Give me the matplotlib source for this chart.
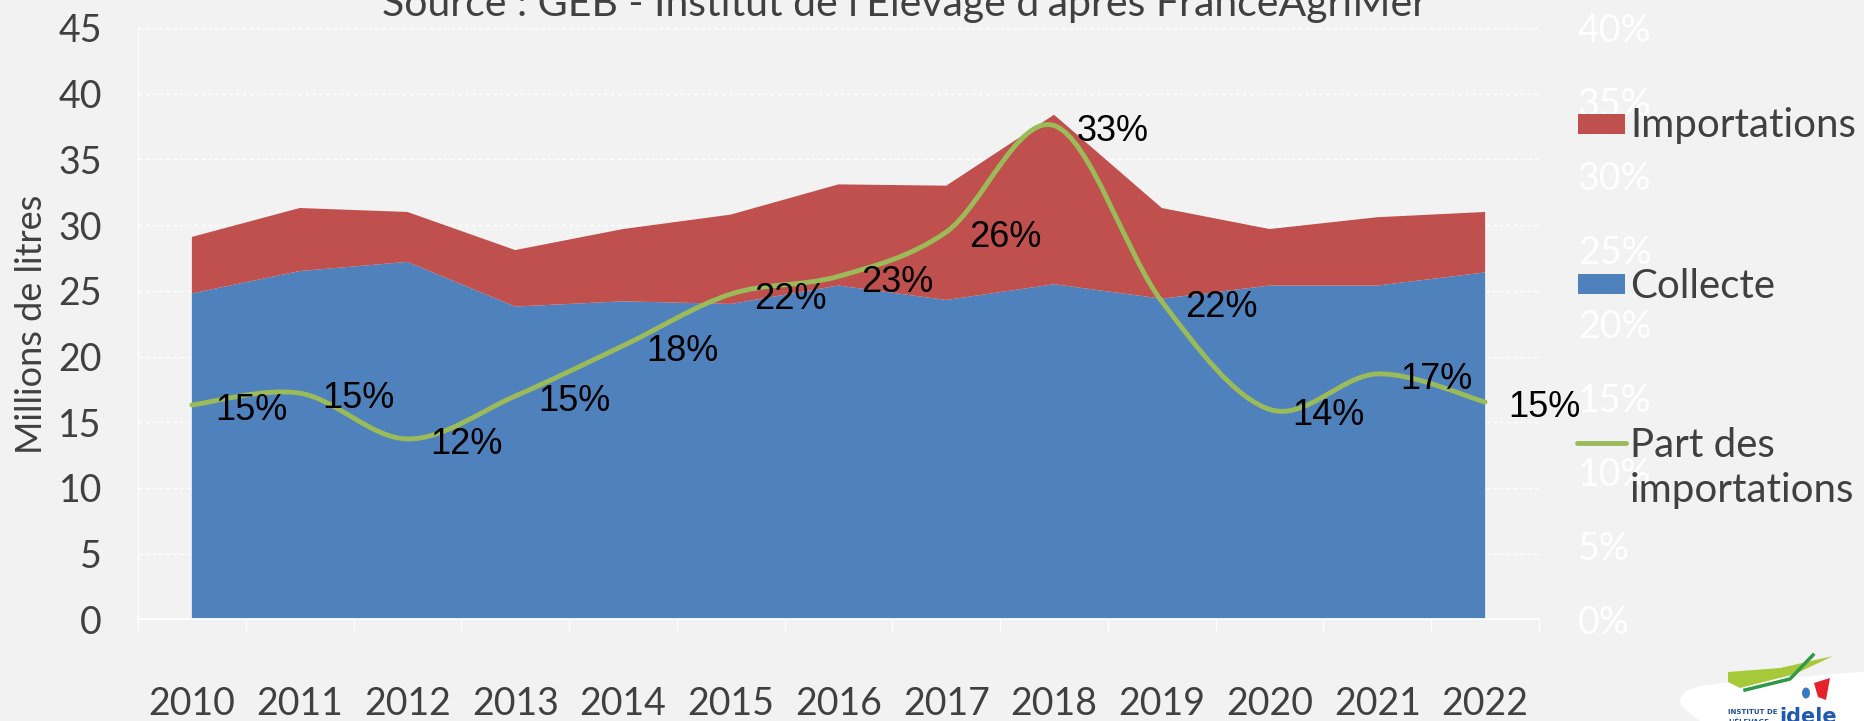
import numpy as np
import matplotlib
matplotlib.use("Agg")
import matplotlib.pyplot as plt
from matplotlib.path import Path
from matplotlib.patches import PathPatch, Rectangle, Ellipse, Polygon
from matplotlib.lines import Line2D
from matplotlib.ticker import PercentFormatter, FixedLocator

# ---------------- data ----------------
years = ["2010", "2011", "2012", "2013", "2014", "2015", "2016",
         "2017", "2018", "2019", "2020", "2021", "2022"]
collecte = [24.8, 26.5, 27.2, 23.8, 24.2, 24.0, 25.4, 24.3, 25.5, 24.4, 25.4, 25.4, 26.4]
importations = [4.3, 4.8, 3.8, 4.3, 5.5, 6.8, 7.7, 8.7, 12.9, 6.9, 4.3, 5.2, 4.6]
part_imports = [0.145, 0.153, 0.122, 0.151, 0.185, 0.220, 0.232, 0.262, 0.334,
                0.215, 0.142, 0.166, 0.147]
part_labels = ["15%", "15%", "12%", "15%", "18%", "22%", "23%", "26%", "33%",
               "22%", "14%", "17%", "15%"]
left_ticks = [0, 5, 10, 15, 20, 25, 30, 35, 40, 45]
right_ticks = [0, 0.05, 0.10, 0.15, 0.20, 0.25, 0.30, 0.35, 0.40]

title = "Source : GEB - Institut de l'Elevage d'après FranceAgriMer"
ylabel = "Millions de litres"
legend_labels = ["Importations", "Collecte", "Part des", "importations"]

# ---------------- style ----------------
BG = "#F2F2F2"
BLUE = "#4F81BD"
RED = "#C0504D"
GREEN = "#9BBB59"
TXT = "#404040"
FONT = ["Lato", "DejaVu Sans"]
LBLFONT = ["Liberation Sans", "DejaVu Sans"]
plt.rcParams["font.family"] = FONT

W, H = 1864, 721
fig = plt.figure(figsize=(W / 100, H / 100), dpi=100, facecolor=BG)


def fx(px):
    return px / W


def fy(py):
    return 1 - py / H


ax_left, ax_right, ax_top, ax_bot = 138, 1539, 28, 619.3
ax = fig.add_axes([fx(ax_left), fy(ax_bot), fx(ax_right - ax_left), (ax_bot - ax_top) / H])
ax.set_facecolor(BG)

x = np.arange(len(years))
ax.stackplot(x, collecte, importations, colors=[BLUE, RED], linewidth=0, zorder=2)

ax.set_xlim(-0.5, len(years) - 0.5)
ax.set_ylim(0, 45)
ax.yaxis.set_major_locator(FixedLocator(left_ticks))
ax.set_yticklabels([str(v) for v in left_ticks])
ax.grid(axis="y", color="white", linewidth=1.0, linestyle=(0, (3, 2)), zorder=1)
ax.set_axisbelow(True)

ax.set_xticks(x)
ax.set_xticklabels(years)
ax.xaxis.set_minor_locator(FixedLocator(np.arange(-0.5, len(years), 1.0)))
ax.tick_params(axis="x", which="major", length=0, pad=48, labelsize=27, labelcolor=TXT)
ax.tick_params(axis="x", which="minor", length=9.4, width=1, color="white", direction="out")
ax.tick_params(axis="y", which="major", length=0, pad=26, labelsize=27, labelcolor=TXT)

for s in ["top", "right"]:
    ax.spines[s].set_visible(False)
ax.spines["left"].set_color("white")
ax.spines["bottom"].set_color("white")
ax.spines["left"].set_linewidth(1)
ax.spines["bottom"].set_linewidth(1.3)

# ---------------- secondary axis ----------------
ax2 = ax.twinx()
ax2.set_ylim(0, 0.40)
ax2.yaxis.set_major_locator(FixedLocator(right_ticks))
ax2.yaxis.set_major_formatter(PercentFormatter(xmax=1, decimals=0))
ax2.tick_params(axis="y", length=0, pad=28, labelsize=27, labelcolor="white")
for s in ax2.spines.values():
    s.set_visible(False)


def smooth_path(xs, ys):
    pts = np.column_stack([xs, ys]).astype(float)
    n = len(pts)
    verts = [pts[0]]
    codes = [Path.MOVETO]
    for i in range(n - 1):
        p0 = pts[i - 1] if i > 0 else pts[i]
        p1 = pts[i]
        p2 = pts[i + 1]
        p3 = pts[i + 2] if i + 2 < n else pts[i + 1]
        c1 = p1 + (p2 - p0) / 6.0
        c2 = p2 - (p3 - p1) / 6.0
        verts += [c1, c2, p2]
        codes += [Path.CURVE4] * 3
    return Path(verts, codes)


ax2.add_patch(PathPatch(smooth_path(x, part_imports), facecolor="none",
                        edgecolor=GREEN, linewidth=3.5, capstyle="round",
                        joinstyle="round", zorder=3))

for xi, yi, lbl in zip(x, part_imports, part_labels):
    ax2.annotate(lbl, (xi, yi), xytext=(16.5, -11), textcoords="offset points",
                 ha="left", va="baseline", fontsize=26, color="black",
                 family=LBLFONT, zorder=4, annotation_clip=False)

# ---------------- texts ----------------
fig.text(fx(905), fy(16), title, ha="center", va="baseline", fontsize=29.5, color=TXT)
fig.text(fx(32), fy(324), ylabel, ha="center", va="center", rotation=90,
         fontsize=26, color=TXT)

# ---------------- legend ----------------
fig.add_artist(Rectangle((fx(1578), fy(134)), fx(47), 20 / H, transform=fig.transFigure,
                         facecolor=RED, edgecolor="none"))
fig.text(fx(1630), fy(137), legend_labels[0], ha="left", va="baseline", fontsize=29, color=TXT)
fig.add_artist(Rectangle((fx(1578), fy(294)), fx(47), 20 / H, transform=fig.transFigure,
                         facecolor=BLUE, edgecolor="none"))
fig.text(fx(1630), fy(298), legend_labels[1], ha="left", va="baseline", fontsize=29, color=TXT)
fig.add_artist(Line2D([fx(1577), fx(1626)], [fy(443), fy(443)], transform=fig.transFigure,
                      color=GREEN, linewidth=3.5, solid_capstyle="round"))
fig.text(fx(1630), fy(457), legend_labels[2], ha="left", va="baseline", fontsize=29, color=TXT)
fig.text(fx(1630), fy(502), legend_labels[3], ha="left", va="baseline", fontsize=29, color=TXT)

# ---------------- logo ----------------
blob = [(1680, 699), (1686, 691), (1700, 686), (1730, 682), (1770, 679), (1810, 676),
        (1845, 673), (1864, 672), (1864, 721), (1700, 721), (1688, 712), (1681, 705)]
fig.add_artist(Polygon([[fx(a), fy(b)] for a, b in blob], closed=True,
                       transform=fig.transFigure, facecolor="white", edgecolor="none"))
fig.add_artist(Polygon([[fx(1728), fy(672)], [fx(1780), fy(668)], [fx(1833), fy(656)],
                        [fx(1795), fy(674)], [fx(1740), fy(688)], [fx(1728), fy(682)]],
                       closed=True, transform=fig.transFigure, facecolor="#A6C93A",
                       edgecolor="none"))
fig.add_artist(Line2D([fx(1745), fx(1790), fx(1813)], [fy(690), fy(679), fy(655)],
                      transform=fig.transFigure, color="#2E9A48", linewidth=2.5))
fig.add_artist(Ellipse((fx(1806), fy(693)), fx(8), 11 / H, transform=fig.transFigure,
                       facecolor="#3B78C2", edgecolor="none"))
fig.add_artist(Polygon([[fx(1814), fy(683)], [fx(1830), fy(678)], [fx(1826), fy(700)],
                        [fx(1818), fy(697)]], closed=True, transform=fig.transFigure,
                       facecolor="#E3222B", edgecolor="none"))
fig.text(fx(1728), fy(714), "INSTITUT DE", ha="left", va="baseline", fontsize=5,
         fontweight="bold", color="#1F4E96", family=["DejaVu Sans"])
fig.text(fx(1728), fy(724), "L'ÉLEVAGE", ha="left", va="baseline", fontsize=5,
         fontweight="bold", color="#1F4E96", family=["DejaVu Sans"])
fig.text(fx(1779), fy(723), "idele", ha="left", va="baseline", fontsize=15,
         fontweight="bold", color="#1F5AB0", family=["DejaVu Sans"])

fig.savefig("out.png", dpi=100, facecolor=BG)
